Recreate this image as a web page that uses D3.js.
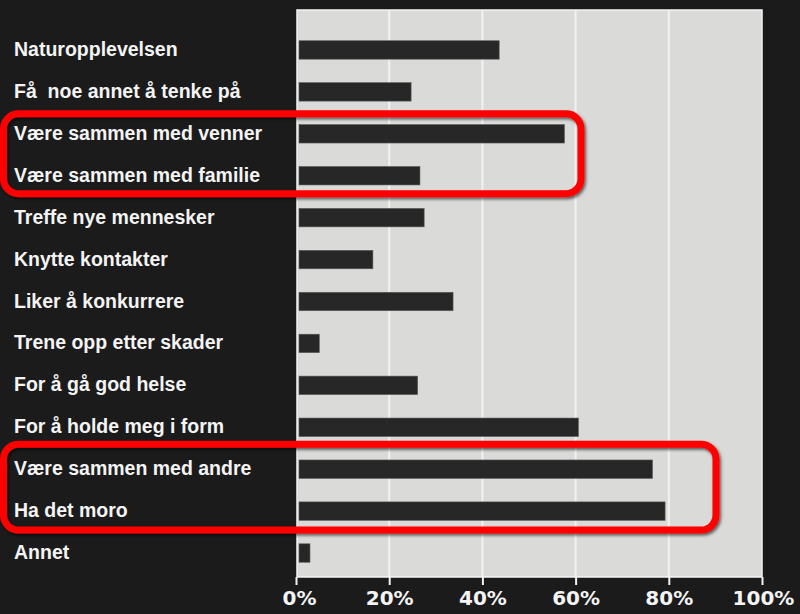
<!DOCTYPE html>
<html><head><meta charset="utf-8">
<script src="https://cdn.jsdelivr.net/npm/d3@7"></script>
<style>
html,body{margin:0;padding:0;background:#1b1b1b;}
svg{display:block;}
</style></head>
<body>
<svg id="chart" width="800" height="614"></svg>
<script>
const categories = [
  "Naturopplevelsen",
  "Få  noe annet å tenke på",
  "Være sammen med venner",
  "Være sammen med familie",
  "Treffe nye mennesker",
  "Knytte kontakter",
  "Liker å konkurrere",
  "Trene opp etter skader",
  "For å gå god helse",
  "For å holde meg i form",
  "Være sammen med andre",
  "Ha det moro",
  "Annet"
];
const values = [43.6, 24.7, 57.6, 26.6, 27.5, 16.5, 33.7, 5.0, 26.1, 60.6, 76.5, 79.2, 3.0];
const tickValues = [0, 20, 40, 60, 80, 100];
const tickLabels = ["0%", "20%", "40%", "60%", "80%", "100%"];
const highlightGroups = [
  ["Være sammen med venner", "Være sammen med familie"],
  ["Være sammen med andre", "Ha det moro"]
];

const svg = d3.select("#chart");
const plot = {left: 297, right: 762, top: 10, bottom: 577};

const x = d3.scaleLinear().domain([0, 100]).range([296, 762]);
const y = d3.scaleBand().domain(categories).range([29, 574]).paddingInner(0.56).paddingOuter(0.28);

// plot background
svg.append("rect")
  .attr("x", plot.left).attr("y", plot.top)
  .attr("width", plot.right - plot.left).attr("height", plot.bottom - plot.top)
  .attr("fill", "#dadad8").attr("stroke", "#f4f4f4").attr("stroke-width", 1.5);

// grid lines
svg.append("g").selectAll("line").data(tickValues.slice(1, -1)).join("line")
  .attr("x1", d => x(d)).attr("x2", d => x(d))
  .attr("y1", plot.top).attr("y2", plot.bottom)
  .attr("stroke", "#f2f2f2").attr("stroke-width", 2);

// bars
svg.append("g").selectAll("rect").data(categories).join("rect")
  .attr("x", x(0) + 3)
  .attr("y", d => y(d))
  .attr("width", (d, i) => x(values[i]) - x(0) - 3)
  .attr("height", y.bandwidth())
  .attr("fill", "#272727").attr("stroke", "#5a5a5a").attr("stroke-width", 0.6);

// category labels
svg.append("g").selectAll("text").data(categories).join("text")
  .attr("x", 14)
  .attr("y", d => y(d) + y.bandwidth() / 2 - 1)
  .attr("dy", "0.36em")
  .attr("fill", "#f4f4f4")
  .style("white-space", "pre")
  .attr("font-family", "Liberation Sans, Arial, sans-serif")
  .attr("font-size", 19.5)
  .attr("font-weight", "bold")
  .text(d => d);

// x axis
const axis = d3.axisBottom(x).tickValues(tickValues).tickFormat((d, i) => tickLabels[i]).tickSize(8).tickPadding(6);
const gx = svg.append("g").attr("transform", `translate(0,${plot.bottom})`).call(axis);
gx.select(".domain").remove();
gx.selectAll(".tick line").attr("stroke", "#f2f2f2").attr("stroke-width", 2);
gx.selectAll(".tick text")
  .attr("fill", "#f4f4f4")
  .attr("font-family", "DejaVu Sans, Verdana, sans-serif")
  .attr("font-size", 20).attr("font-weight", "bold");
gx.selectAll(".tick").filter(d => d === 100).select("text").attr("dx", 1);
gx.selectAll(".tick").filter(d => d === 0).select("text").attr("dx", 3);

// highlight boxes
const boxSpecs = [
  {group: highlightGroups[0], x0: 3.5, x1: 581, padTop: 20, padBottom: 18},
  {group: highlightGroups[1], x0: 3.5, x1: 716, padTop: 25, padBottom: 19}
];
const defs = svg.append("defs");
const f = defs.append("filter").attr("id", "sh").attr("x", "-5%").attr("y", "-20%").attr("width", "110%").attr("height", "140%");
f.append("feDropShadow").attr("dx", 1.5).attr("dy", 2).attr("stdDeviation", 1.5).attr("flood-color", "#000").attr("flood-opacity", 0.6);
boxSpecs.forEach(b => {
  const top = y(b.group[0]) + y.bandwidth() / 2 - b.padTop;
  const bottom = y(b.group[b.group.length - 1]) + y.bandwidth() / 2 + b.padBottom;
  svg.append("rect")
    .attr("x", b.x0).attr("y", top)
    .attr("width", b.x1 - b.x0).attr("height", bottom - top)
    .attr("rx", 15).attr("ry", 15)
    .attr("fill", "none").attr("stroke", "#ff0000").attr("stroke-width", 7)
    .attr("filter", "url(#sh)");
});
</script>
</body></html>
